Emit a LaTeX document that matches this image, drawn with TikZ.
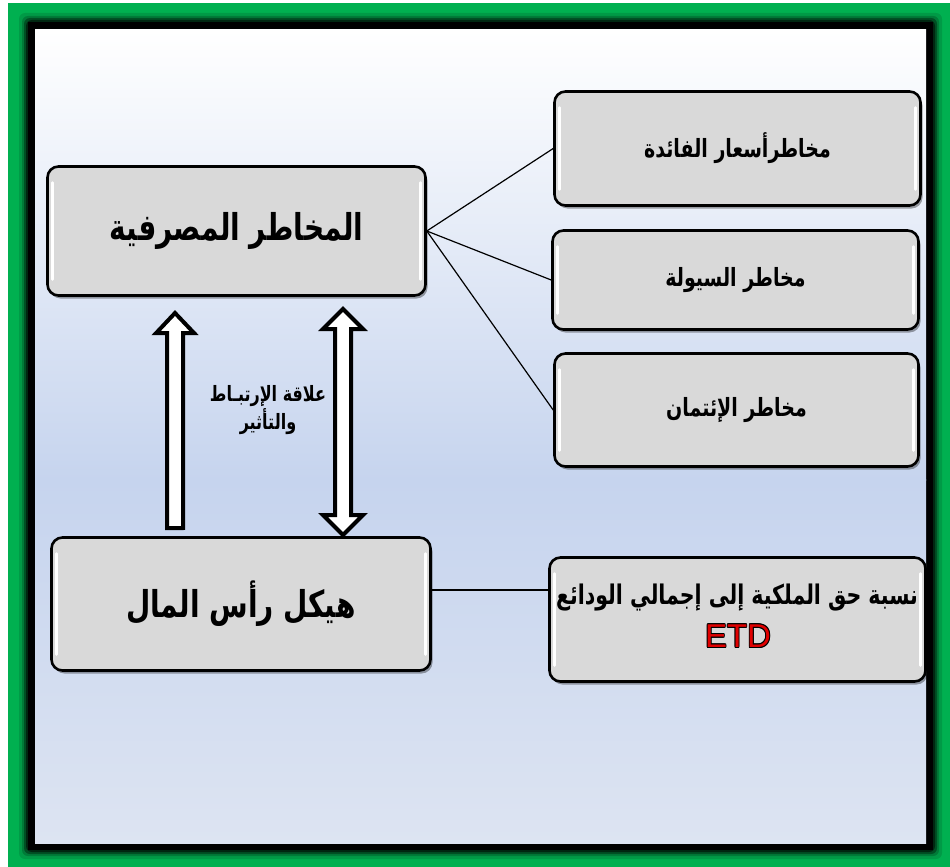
\documentclass[tikz,border=0pt]{standalone}
\usepackage{graphicx}
\usepackage{fontspec}
\setmainfont{Liberation Sans}
\newfontfamily\arabicfont[Script=Arabic]{DejaVu Sans}
\TeXXeTstate=1
\usetikzlibrary{shadows,calc}
\definecolor{frameGreen}{HTML}{00B050}
\definecolor{boxGray}{HTML}{D9D9D9}
\definecolor{bgBlue}{HTML}{C6D4EE}
\definecolor{bgLight}{HTML}{DDE4F2}
\definecolor{etdRed}{HTML}{E00000}
% right-to-left line, stretched a little upwards
\newcommand{\arline}[1]{\scalebox{1}[1.32]{\beginR #1\endR}}
\begin{document}
\begin{tikzpicture}[x=1pt,y=-1pt,
  riskbox/.style={draw=black, line width=2.6pt, rounded corners=11pt, fill=boxGray,
    drop shadow={shadow xshift=2pt, shadow yshift=-3pt, opacity=0.35, fill=black},
    align=center, inner sep=0pt,
    path picture={
      \draw[white, line width=2.5pt, line cap=round]
        ([xshift=5pt,yshift=-16pt]path picture bounding box.north west) --
        ([xshift=5pt,yshift=16pt]path picture bounding box.south west);
      \draw[white, line width=2.5pt, line cap=round]
        ([xshift=-5pt,yshift=-16pt]path picture bounding box.north east) --
        ([xshift=-5pt,yshift=16pt]path picture bounding box.south east);
    }},
  bigtext/.style={font=\arabicfont\bfseries\fontsize{28}{34}\selectfont},
  smalltext/.style={font=\arabicfont\bfseries\fontsize{19}{26}\selectfont},
  link/.style={draw=black, line width=1.2pt},
  hollow/.style={draw=black, line width=4pt, fill=white, line join=miter}
]
\useasboundingbox (0,0) rectangle (950,867);
\fill[white] (0,0) rectangle (950,867);
% outer green frame
\fill[frameGreen] (8,3) rectangle (950,867);
% soft black band
\foreach \d/\o in {9/0.12,6/0.2,4/0.35,2/0.5}
  \fill[black, opacity=\o, rounded corners=6pt] (28-\d,22-\d) rectangle (933+\d,850+\d);
\fill[black] (28,22) rectangle (933,850);
% background gradient
\shade[top color=white, bottom color=bgBlue] (35,30) rectangle (926,480);
\shade[top color=bgBlue, bottom color=bgLight] (35,479.5) rectangle (926,843);

% boxes
\node[riskbox, bigtext, minimum width=378pt, minimum height=129pt] (bank) at (236.5,231)
  {\arline{المخاطر المصرفية}};
\node[riskbox, bigtext, minimum width=379pt, minimum height=133pt] (capital) at (241,604)
  {\arline{هيكل رأس المال}};
\node[riskbox, smalltext, minimum width=366pt, minimum height=114pt] (rate) at (737.5,148.5)
  {\arline{مخاطرأسعار الفائدة}};
\node[riskbox, smalltext, minimum width=366pt, minimum height=99pt] (liquidity) at (735.5,280)
  {\arline{مخاطر السيولة}};
\node[riskbox, smalltext, minimum width=364pt, minimum height=113pt] (credit) at (736.5,410)
  {\arline{مخاطر الإئتمان}};
\node[riskbox, minimum width=376pt, minimum height=124pt] (etd) at (737.5,619.5) {};
\node[font=\arabicfont\bfseries\fontsize{20.5}{26}\selectfont] (etdline) at (737,598)
  {\arline{نسبة حق الملكية إلى إجمالي الودائع}};
% outlined red abbreviation
\foreach \dx/\dy in {0.9/0,-0.9/0,0/0.9,0/-0.9,0.7/0.7,-0.7/0.7,0.7/-0.7,-0.7/-0.7}
  \node[font=\fontsize{33}{38}\selectfont, text=black] at (738+\dx,636+\dy) {ETD};
\node[font=\fontsize{33}{38}\selectfont, text=etdRed] (etdtag) at (738,636) {ETD};

% connectors
\draw[link] (bank.east) -- (rate.west);
\draw[link] (bank.east) -- (liquidity.west);
\draw[link] (bank.east) -- (credit.west);
\draw[link] (capital.east) ++(0,-14) coordinate (capOut) -- (capOut -| etd.west);

% hollow block arrows between the two main boxes
\coordinate (upBase) at ($(capital.north west)!0.33!(capital.north east)+(0,-8)$);
\coordinate (upTip) at (175,313);
\draw[hollow] (upBase -| upTip) ++(-8,0) -- ++(0,-195) -- ++(-11,0) -- (upTip)
  -- ++(19,20) -- ++(-11,0) -- ++(0,195) -- cycle;
\coordinate (dTop) at (343,309);
\coordinate (dBot) at (343,535);
\draw[hollow] (dTop) -- ++(20,20) -- ++(-12,0) -- ($(dBot)+(8,-20)$) -- ++(12,0)
  -- (dBot) -- ++(-20,-20) -- ++(12,0) -- ($(dTop)+(-8,20)$) -- ++(-12,0) -- cycle;

% relation label
\node[font=\arabicfont\bfseries\fontsize{16}{24}\selectfont, align=center] (rel) at (268,410)
  {\arline{علاقة الإرتبـاط}\\ \arline{والتأثير}};
\end{tikzpicture}
\end{document}
